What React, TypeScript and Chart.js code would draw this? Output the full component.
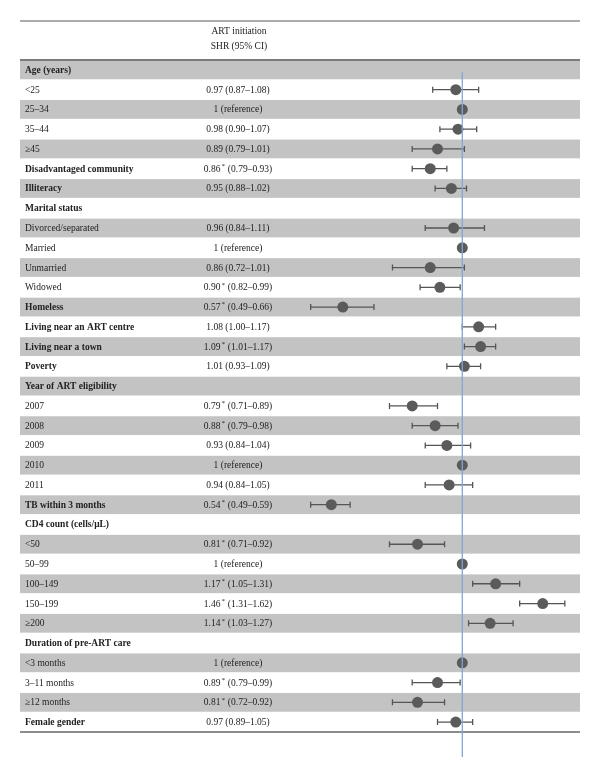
import React, { useEffect, useRef } from "react";
import { Chart, registerables } from "chart.js";

Chart.register(...registerables);

const rowLabels: string[] = [
  "Age (years)", "<25", "25–34", "35–44", "≥45", "Disadvantaged community", "Illiteracy",
  "Marital status", "Divorced/separated", "Married", "Unmarried", "Widowed", "Homeless",
  "Living near an ART centre", "Living near a town", "Poverty", "Year of ART eligibility",
  "2007", "2008", "2009", "2010", "2011", "TB within 3 months", "CD4 count (cells/μL)",
  "<50", "50–99", "100–149", "150–199", "≥200", "Duration of pre-ART care", "<3 months",
  "3–11 months", "≥12 months", "Female gender",
];

const boldRows: boolean[] = [
  true, false, false, false, false, true, true,
  true, false, false, false, false, true,
  true, true, true, true,
  false, false, false, false, false, true, true,
  false, false, false, false, false, true, false,
  false, false, true,
];

const shr: (number | null)[] = [
  null, 0.97, 1, 0.98, 0.89, 0.86, 0.95,
  null, 0.96, 1, 0.86, 0.90, 0.57,
  1.08, 1.09, 1.01, null,
  0.79, 0.88, 0.93, 1, 0.94, 0.54, null,
  0.81, 1, 1.17, 1.46, 1.14, null, 1,
  0.89, 0.81, 0.97,
];

const ciLower: (number | null)[] = [
  null, 0.87, null, 0.90, 0.79, 0.79, 0.88,
  null, 0.84, null, 0.72, 0.82, 0.49,
  1.00, 1.01, 0.93, null,
  0.71, 0.79, 0.84, null, 0.84, 0.49, null,
  0.71, null, 1.05, 1.31, 1.03, null, null,
  0.79, 0.72, 0.89,
];

const ciUpper: (number | null)[] = [
  null, 1.08, null, 1.07, 1.01, 0.93, 1.02,
  null, 1.11, null, 1.01, 0.99, 0.66,
  1.17, 1.17, 1.09, null,
  0.89, 0.98, 1.04, null, 1.05, 0.59, null,
  0.92, null, 1.31, 1.62, 1.27, null, null,
  0.99, 0.92, 1.05,
];

const significant: boolean[] = [
  false, false, false, false, false, true, false,
  false, false, false, false, true, true,
  false, true, false, false,
  true, true, false, false, false, true, false,
  true, false, true, true, true, false, false,
  true, true, false,
];

const headerLines: string[] = ["ART initiation", "SHR (95% CI)"];

const FONT = '"Liberation Serif", "Times New Roman", serif';

function drawValueText(ctx: CanvasRenderingContext2D, i: number, cx: number, y: number) {
  const v = shr[i];
  if (v == null) return;
  ctx.font = `9.5px ${FONT}`;
  ctx.fillStyle = "#222";
  ctx.textBaseline = "middle";
  if (ciLower[i] == null) {
    ctx.textAlign = "center";
    ctx.fillText(`${v} (reference)`, cx, y);
    return;
  }
  const main = v.toFixed(2);
  const rest = ` (${ciLower[i]!.toFixed(2)}–${ciUpper[i]!.toFixed(2)})`;
  const star = significant[i] ? "*" : "";
  const wMain = ctx.measureText(main).width;
  const wRest = ctx.measureText(rest).width;
  ctx.font = `7px ${FONT}`;
  const wStar = star ? ctx.measureText(star).width + 1.5 : 0;
  const total = wMain + wStar + wRest;
  let x = cx - total / 2;
  ctx.textAlign = "left";
  ctx.font = `9.5px ${FONT}`;
  ctx.fillText(main, x, y);
  x += wMain;
  if (star) {
    ctx.font = `7px ${FONT}`;
    ctx.fillText(star, x + 1, y - 3);
    x += wStar;
    ctx.font = `9.5px ${FONT}`;
  }
  ctx.fillText(rest, x, y);
}

const tablePlugin = {
  id: "forestTable",
  beforeDatasetsDraw(chart: any) {
    const { ctx, chartArea, scales } = chart;
    const ys = scales.y;
    const xs = scales.x;
    const left = chartArea.left;
    const right = chartArea.right;
    const rowH = Math.abs(ys.getPixelForValue(1) - ys.getPixelForValue(0));
    ctx.save();
    // bands
    rowLabels.forEach((_, i) => {
      if (i % 2 === 0) {
        const yc = ys.getPixelForValue(i);
        ctx.fillStyle = "#c3c3c3";
        ctx.fillRect(left, yc - rowH / 2 + 0.5, right - left, rowH - 1);
      }
    });
    // rules
    ctx.strokeStyle = "#5a5a5a";
    ctx.lineWidth = 1.2;
    ctx.beginPath();
    ctx.moveTo(left, chartArea.top - 39);
    ctx.lineTo(right, chartArea.top - 39);
    ctx.stroke();
    ctx.strokeStyle = "#7a7a7a";
    ctx.lineWidth = 2;
    ctx.beginPath();
    ctx.moveTo(left, chartArea.top);
    ctx.lineTo(right, chartArea.top);
    ctx.stroke();
    ctx.strokeStyle = "#8c8c8c";
    ctx.lineWidth = 2;
    ctx.beginPath();
    ctx.moveTo(left, chartArea.bottom);
    ctx.lineTo(right, chartArea.bottom);
    ctx.stroke();
    // header
    const colX = 238;
    ctx.fillStyle = "#222";
    ctx.font = `9.5px ${FONT}`;
    ctx.textAlign = "center";
    ctx.textBaseline = "middle";
    ctx.fillText(headerLines[0], colX + 1, chartArea.top - 29);
    ctx.fillText(headerLines[1], colX + 1, chartArea.top - 13.5);
    // rows text
    rowLabels.forEach((lab, i) => {
      const yc = ys.getPixelForValue(i) + 0.5;
      ctx.font = `${boldRows[i] ? "bold " : ""}9.5px ${FONT}`;
      ctx.textAlign = "left";
      ctx.fillStyle = "#222";
      ctx.fillText(lab, left + 5, yc);
      drawValueText(ctx, i, colX, yc);
    });
    // error bars
    ctx.strokeStyle = "#555";
    ctx.lineWidth = 1.3;
    rowLabels.forEach((_, i) => {
      const lo = ciLower[i];
      const hi = ciUpper[i];
      if (lo == null || hi == null) return;
      const yc = ys.getPixelForValue(i);
      const x1 = xs.getPixelForValue(lo);
      const x2 = xs.getPixelForValue(hi);
      ctx.beginPath();
      ctx.moveTo(x1, yc);
      ctx.lineTo(x2, yc);
      ctx.moveTo(x1, yc - 3);
      ctx.lineTo(x1, yc + 3);
      ctx.moveTo(x2, yc - 3);
      ctx.lineTo(x2, yc + 3);
      ctx.stroke();
    });
    ctx.restore();
  },
  afterDatasetsDraw(chart: any) {
    const { ctx, chartArea, scales } = chart;
    const x = scales.x.getPixelForValue(1);
    ctx.save();
    ctx.strokeStyle = "#7fa6d3";
    ctx.lineWidth = 1.3;
    ctx.beginPath();
    ctx.moveTo(x, chartArea.top + 12);
    ctx.lineTo(x, chartArea.bottom + 25);
    ctx.stroke();
    ctx.restore();
  },
};

export default function App() {
  const ref = useRef<HTMLCanvasElement | null>(null);
  useEffect(() => {
    if (!ref.current) return;
    const points = shr
      .map((v, i) => (v == null ? null : { x: v, y: i }))
      .filter((p) => p !== null) as { x: number; y: number }[];
    const chart = new Chart(ref.current, {
      type: "scatter",
      data: {
        datasets: [
          {
            data: points,
            backgroundColor: "#5b5b5b",
            borderColor: "#5b5b5b",
            pointRadius: 5.5,
            pointHoverRadius: 5.5,
            borderWidth: 0,
          },
        ],
      },
      options: {
        responsive: false,
        animation: false,
        events: [],
        layout: { padding: { left: 20, right: 20, top: 60, bottom: 46 } },
        plugins: { legend: { display: false }, tooltip: { enabled: false } },
        scales: {
          x: { type: "logarithmic", min: 0.1248, max: 1.74, display: false },
          y: { type: "linear", min: -0.5, max: rowLabels.length - 0.5, reverse: true, display: false },
        },
      },
      plugins: [tablePlugin],
    });
    return () => chart.destroy();
  }, []);
  return (
    <div style={{ position: "absolute", left: 0, top: 0, width: 600, height: 778, background: "#fff" }}>
      <canvas ref={ref} width={600} height={778} style={{ display: "block" }} />
    </div>
  );
}
